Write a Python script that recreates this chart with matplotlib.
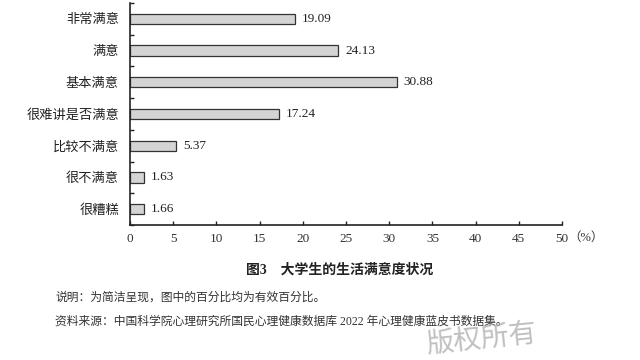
import matplotlib
matplotlib.use("Agg")
import matplotlib.pyplot as plt

plt.rcParams['font.family'] = ['Liberation Serif', 'Noto Sans CJK SC', 'DejaVu Sans']

categories = ["非常满意", "满意", "基本满意", "很难讲是否满意", "比较不满意", "很不满意", "很糟糕"]
values = [19.09, 24.13, 30.88, 17.24, 5.37, 1.63, 1.66]
xticks = [0, 5, 10, 15, 20, 25, 30, 35, 40, 45, 50]

fig = plt.figure(figsize=(6.4, 3.6), dpi=100)
ax = fig.add_axes([130/640, 1-225/360, 432/640, 222/360])

n = len(categories)
ypos = list(range(n))[::-1]
ax.barh(ypos, values, height=0.32, color="#d4d4d4", edgecolor="#333333", linewidth=0.9)
for y, v in zip(ypos, values):
    ax.text(v + 0.8, y, f"{v:.2f}", va="center", ha="left", fontsize=9.5, color="#222222")

ax.set_xlim(0, 50)
ax.set_ylim(-0.5, n - 0.5)
ax.set_xticks(xticks)
ax.set_xticklabels([str(t) for t in xticks], fontsize=9.5, color="#333333")
ax.set_yticks(ypos)
ax.set_yticklabels(categories, fontsize=9.5, color="#222222")
ax.set_yticks([i - 0.5 for i in range(n + 1)], minor=True)
ax.tick_params(axis="y", which="major", length=0, pad=8)
ax.tick_params(axis="y", which="minor", direction="in", length=3, width=1, color="#222222")
ax.tick_params(axis="x", direction="in", length=3, width=1, color="#222222", pad=6)
for s in ["top", "right"]:
    ax.spines[s].set_visible(False)
for s in ["left", "bottom"]:
    ax.spines[s].set_linewidth(1.2)
    ax.spines[s].set_color("#222222")

fig.text(568/640, 1-238/360, "（%）", fontsize=9, color="#333333", va="center", ha="left")
fig.text(340/640, 1-270/360, "图3　大学生的生活满意度状况", fontsize=10, fontweight="bold",
         ha="center", va="center", color="#222222")
fig.text(55/640, 1-298/360, "说明：为简洁呈现，图中的百分比均为有效百分比。", fontsize=8.5,
         ha="left", va="center", color="#333333")
fig.text(55/640, 1-322/360, "资料来源：中国科学院心理研究所国民心理健康数据库 2022 年心理健康蓝皮书数据集。",
         fontsize=8.5, ha="left", va="center", color="#333333")
fig.text(425/640, 1-359/360, "版权所有", fontsize=20, rotation=6, color="#b0b0b0",
         ha="left", va="bottom", alpha=0.8)

fig.savefig("out.png", dpi=100)
